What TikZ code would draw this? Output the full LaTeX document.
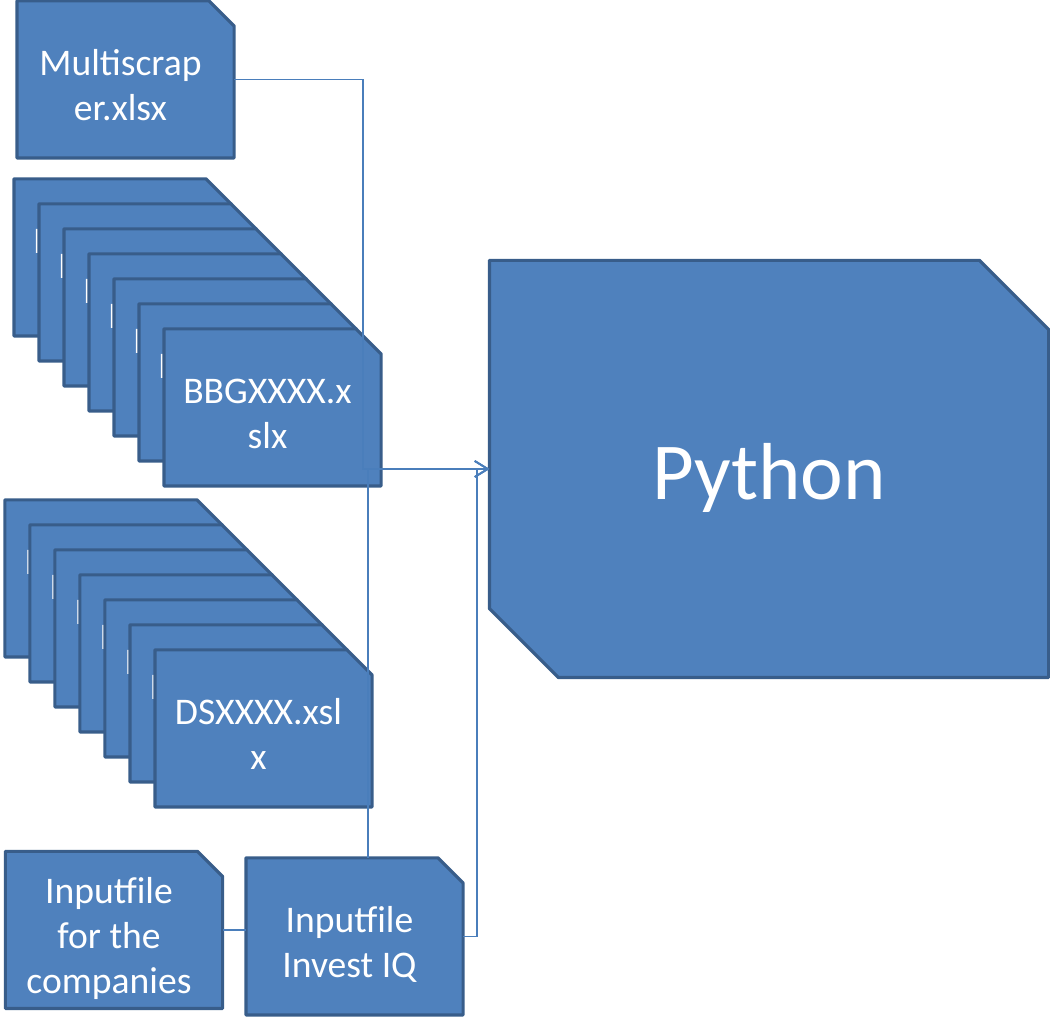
\documentclass[tikz,border=0pt]{standalone}
\usepackage{fontspec}
\setmainfont{Carlito}
\usetikzlibrary{arrows.meta}
\definecolor{boxblue}{HTML}{4F81BD}
\definecolor{boxedge}{HTML}{385D8A}
\definecolor{linkblue}{HTML}{4A7EBB}

% rectangle with cut off corners (north east, south west)
\makeatletter
\pgfkeys{/pgf/cut ne/.initial=0pt,/pgf/cut sw/.initial=0pt}
\pgfdeclareshape{cutcard}{
  \inheritsavedanchors[from=rectangle]
  \inheritanchorborder[from=rectangle]
  \inheritanchor[from=rectangle]{center}
  \inheritanchor[from=rectangle]{north}
  \inheritanchor[from=rectangle]{south}
  \inheritanchor[from=rectangle]{east}
  \inheritanchor[from=rectangle]{west}
  \inheritanchor[from=rectangle]{north east}
  \inheritanchor[from=rectangle]{north west}
  \inheritanchor[from=rectangle]{south east}
  \inheritanchor[from=rectangle]{south west}
  \backgroundpath{
    \pgfmathsetlengthmacro\cutne{\pgfkeysvalueof{/pgf/cut ne}}
    \pgfmathsetlengthmacro\cutsw{\pgfkeysvalueof{/pgf/cut sw}}
    \southwest \edef\cardxa{\the\pgf@x}\edef\cardya{\the\pgf@y}
    \northeast \edef\cardxb{\the\pgf@x}\edef\cardyb{\the\pgf@y}
    \pgfpathmoveto{\pgfpoint{\cardxa}{\cardyb}}
    \pgfpathlineto{\pgfpoint{\cardxb-\cutne}{\cardyb}}
    \pgfpathlineto{\pgfpoint{\cardxb}{\cardyb-\cutne}}
    \pgfpathlineto{\pgfpoint{\cardxb}{\cardya}}
    \pgfpathlineto{\pgfpoint{\cardxa+\cutsw}{\cardya}}
    \pgfpathlineto{\pgfpoint{\cardxa}{\cardya+\cutsw}}
    \pgfpathclose
  }
}
\makeatother

\tikzset{every node/.style={cutcard,draw=boxedge,fill=boxblue,text=white,
  line width=0.9pt,line join=round,align=center,inner sep=0pt}}
\tikzset{filebox/.style={cut ne=0.25cm,minimum width=2.14cm,minimum height=1.54cm,
  text width=2.0cm,align=flush center,font=\fontsize{10.7}{12.8}\selectfont,
  execute at begin node={\leftskip=0pt plus 1fil\rightskip=0.1cm plus 1fil\rule{0pt}{1.2em}},
  execute at end node=\rule[-0.22em]{0pt}{0pt}}}
\tikzset{bigbox/.style={cut ne=0.69cm,cut sw=0.69cm,minimum width=5.56cm,minimum height=4.14cm,
  font=\fontsize{23}{27}\selectfont,execute at begin node=\rule{0pt}{0.92em}}}
\tikzset{link/.style={draw=linkblue,line width=0.5pt,-{Straight Barb[length=1.3mm,width=1.6mm]}}}

\begin{document}
\begin{tikzpicture}
      \useasboundingbox (0,0) rectangle (10.5,10.17);
      \node[filebox] (multi) at (1.255,9.375) {Multiscrap\\er.xlsx};
      \foreach \i in {0,...,6}
        \node[filebox] (bbg\i) at (1.225+0.25*\i,7.595-0.25*\i) {BBGXXXX.x\\slx};
      \foreach \i in {0,...,6}
        \node[filebox] (ds\i) at (1.135+0.25*\i,4.385-0.25*\i) {DSXXXX.xsl\\x};
      \node[filebox] (comp) at (1.14,0.87) {Inputfile\\for the\\companies};
      \node[filebox] (invest) at (3.545,0.805) {Inputfile\\Invest IQ};
      \node[bigbox] (python) at (7.69,5.48) {Python};

      \draw[link] (multi.east) -- ++(1.29,0) |- (python.west);
      \draw[link] ([xshift=0.135cm]invest.north) |- (python.west);
      \draw[link] (invest.east) -- ++(0.14,0) |- (python.west);
      \draw[draw=linkblue,line width=0.5pt] (comp.east) -- (comp.east -| invest.west);
    \end{tikzpicture}
\end{document}
